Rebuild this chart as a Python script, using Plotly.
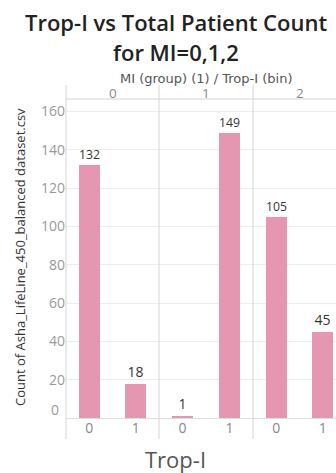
import plotly.graph_objects as go

# Patient counts per Trop-I bin, split by MI group
mi_groups = ["0", "1", "2"]
trop_bins = ["0", "1"]
counts_mi0 = [132, 18]
counts_mi1 = [1, 149]
counts_mi2 = [105, 45]
y_ticks = [20, 40, 60, 80, 100, 120, 140, 160]

W, H = 336, 473
ML, MR, MT, MB = 66, 0, 99, 55
PW, PH = W - ML - MR, H - MT - MB

def px_x(px):
    return (px - ML) / PW

def px_y(py):
    return (H - MB - py) / PH

BAR = "#E597B1"
GRID = "#EDEDED"
SEP = "#D4D4D4"
FONT = "Open Sans"
WIDE = "DejaVu Sans"

# panel edges (pixels) for the three MI facets
edges = [66, 159, 253, 346]
domains = [[px_x(edges[i]), min(1.0, px_x(edges[i + 1]))] for i in range(3)]

fig = go.Figure()
series = [counts_mi0, counts_mi1, counts_mi2]
for i, vals in enumerate(series):
    sfx = "" if i == 0 else str(i + 1)
    fig.add_trace(go.Bar(
        x=trop_bins, y=vals,
        xaxis="x" + sfx, yaxis="y" + sfx,
        marker=dict(color=BAR, line=dict(width=0)),
        width=0.45,
        text=[str(v) for v in vals], textposition="outside",
        textfont=dict(family=FONT, size=14, color="#333333"),
        cliponaxis=False, showlegend=False,
        hoverinfo="skip",
    ))

y_range = [0, 166.5]
layout = dict(
    width=W, height=H,
    margin=dict(l=ML, r=MR, t=MT, b=MB),
    paper_bgcolor="white", plot_bgcolor="white",
    bargap=0.0,
    font=dict(family=FONT, color="#555555"),
)
for i in range(3):
    sfx = "" if i == 0 else str(i + 1)
    full_w = edges[i + 1] - edges[i]
    vis_w = min(edges[i + 1], W) - edges[i]
    per_cat = full_w / 2
    layout["xaxis" + sfx] = dict(
        domain=domains[i], anchor="y" + sfx,
        type="category",
        range=[-0.5, -0.5 + vis_w / per_cat],
        showgrid=False, zeroline=False, showline=False, ticks="",
        tickfont=dict(family=FONT, size=14, color="#888888"),
        fixedrange=True,
    )
    layout["yaxis" + sfx] = dict(
        domain=[0, 1], anchor="x" + sfx,
        range=y_range,
        tickvals=y_ticks,
        showticklabels=(i == 0),
        tickfont=dict(family=FONT, size=14, color="#999999"),
        showgrid=True, gridcolor=GRID, gridwidth=1,
        zeroline=True, zerolinecolor="#DDDDDD", zerolinewidth=1,
        showline=False, ticks="",
        fixedrange=True,
    )
    if i > 0:
        layout["yaxis" + sfx]["matches"] = "y"
fig.update_layout(**layout)

shapes = []
# facet separators, running from the header down through the x labels
for e in edges[:3]:
    shapes.append(dict(type="line", xref="paper", yref="paper",
                       x0=px_x(e), x1=px_x(e), y0=px_y(439), y1=px_y(85),
                       line=dict(color=SEP, width=1)))
# header rule above the plot
shapes.append(dict(type="line", xref="paper", yref="paper",
                   x0=0, x1=1, y0=1, y1=1,
                   line=dict(color=SEP, width=1)))
fig.update_layout(shapes=shapes)

ann = []
# chart title, two lines
for txt, cy in [("Trop-I vs Total Patient Count", 22), ("for MI=0,1,2", 52)]:
    ann.append(dict(text=txt, xref="paper", yref="paper", x=px_x(176), y=px_y(cy),
                    xanchor="center", yanchor="middle", showarrow=False,
                    font=dict(family=FONT, size=22, color="#222222", weight=600)))
# facet header labels
for i, g in enumerate(mi_groups):
    cx = (edges[i] + edges[i + 1]) / 2
    ann.append(dict(text=g, xref="paper", yref="paper", x=px_x(cx), y=px_y(93),
                    xanchor="center", yanchor="middle", showarrow=False,
                    font=dict(family=FONT, size=13.5, color="#888888")))
ann.append(dict(text="MI (group) (1) / Trop-I (bin)", xref="paper", yref="paper",
                x=px_x(206), y=px_y(78), xanchor="center", yanchor="middle",
                showarrow=False, font=dict(family=WIDE, size=13, color="#555555")))
# zero tick label sits slightly above the baseline
ann.append(dict(text="0", xref="paper", yref="y", x=px_x(61), y=0, yshift=9,
                xanchor="right", yanchor="middle", showarrow=False,
                font=dict(family=FONT, size=14, color="#999999")))
ann.append(dict(text="Count of Asha_LifeLine_450_balanced dataset.csv",
                xref="paper", yref="paper", x=px_x(20), y=px_y(257),
                xanchor="center", yanchor="middle", textangle=-90, showarrow=False,
                font=dict(family=FONT, size=13, color="#333333")))
ann.append(dict(text="Trop-I", xref="paper", yref="paper",
                x=px_x(175), y=px_y(459), xanchor="center", yanchor="middle",
                showarrow=False, font=dict(family=FONT, size=22, color="#555555")))
fig.update_layout(annotations=ann)

fig.write_html("out.html", config={"displayModeBar": False})
